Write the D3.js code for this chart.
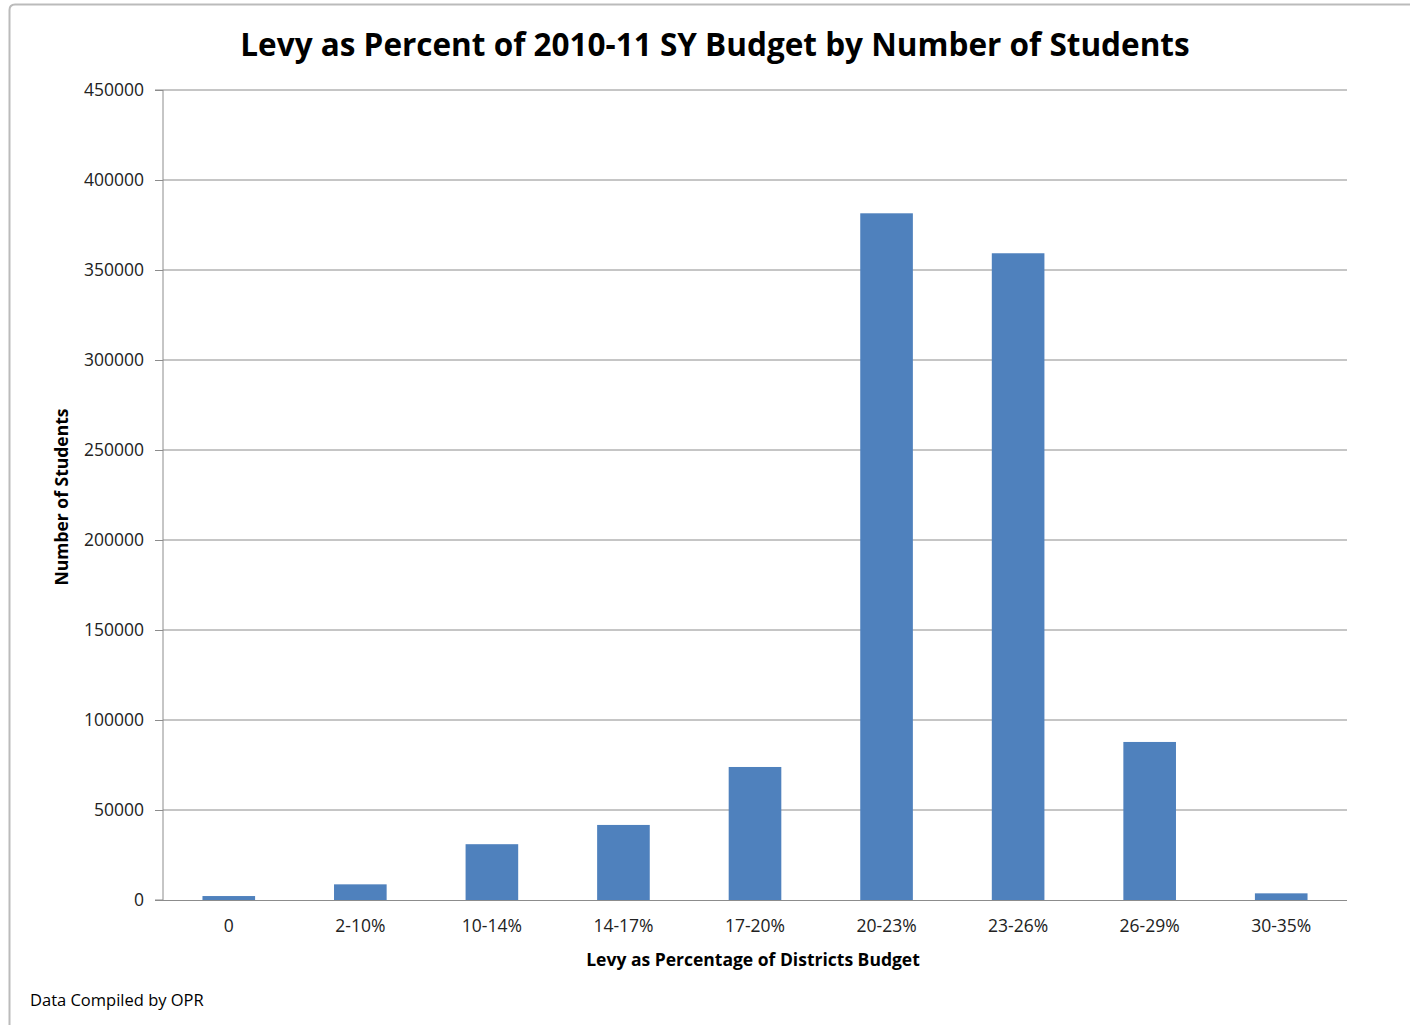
<!DOCTYPE html>
<html lang="en">
<head>
    <meta charset="UTF-8">
    <title>Levy as Percent of 2010-11 SY Budget</title>
    <script src="https://d3js.org/d3.v7.min.js"></script>
    <style>
        body { margin: 0; background: #fff; font-family: "Open Sans", Arial, sans-serif; }
    </style>
</head>
<body>
    <svg width="1410" height="1025"></svg>
    <script>
        const categories = ["0", "2-10%", "10-14%", "14-17%", "17-20%", "20-23%", "23-26%", "26-29%", "30-35%"];
        const students = [2200, 8700, 31000, 41700, 73900, 381500, 359300, 87800, 3700];
        const yTicks = [0, 50000, 100000, 150000, 200000, 250000, 300000, 350000, 400000, 450000];

        const margin = { top: 90, right: 63, bottom: 125, left: 163 },
              width = 1410 - margin.left - margin.right,
              height = 1025 - margin.top - margin.bottom;

        const svg = d3.select("svg");

        // chart frame
        svg.append("path")
            .attr("d", "M9.5,1025 L9.5,10 Q9.5,4.5 15,4.5 L1410,4.5")
            .attr("fill", "none")
            .attr("stroke", "#bbb")
            .attr("stroke-width", 2);

        const g = svg.append("g")
            .attr("transform", "translate(" + margin.left + "," + margin.top + ")");

        const x = d3.scaleBand()
            .domain(categories)
            .range([0, width])
            .paddingInner(0.6)
            .paddingOuter(0.3);
        const y = d3.scaleLinear()
            .domain([0, 450000])
            .range([height, 0]);

        // gridlines
        g.selectAll(".grid")
            .data(yTicks.slice(1))
            .enter()
            .append("line")
            .attr("x1", 0)
            .attr("x2", width)
            .attr("y1", d => y(d))
            .attr("y2", d => y(d))
            .attr("stroke", "#8c8c8c")
            .attr("stroke-width", 1);

        g.selectAll(".bar")
            .data(students)
            .enter()
            .append("rect")
            .attr("class", "bar")
            .attr("x", (d, i) => x(categories[i]))
            .attr("y", d => y(d))
            .attr("width", x.bandwidth())
            .attr("height", d => height - y(d))
            .attr("fill", "#4f81bd");

        const yAxis = g.append("g")
            .call(d3.axisLeft(y).tickValues(yTicks).tickSize(8).tickPadding(11).tickFormat(d3.format("d")));
        yAxis.selectAll("line, path").attr("stroke", "#8c8c8c");
        yAxis.select(".domain").attr("d", "M-8," + height + "H0V0H-8");

        const xAxis = g.append("g")
            .attr("transform", "translate(0," + height + ")")
            .call(d3.axisBottom(x).tickSize(0).tickPadding(20));
        xAxis.select(".domain").attr("stroke", "#8c8c8c").attr("d", "M-8,0.5H" + width);

        svg.selectAll(".tick text")
            .style("font-family", "'Open Sans', Arial, sans-serif")
            .style("font-size", "17.5px")
            .attr("fill", "#222");

        svg.append("text")
            .attr("x", 715)
            .attr("y", 56)
            .attr("text-anchor", "middle")
            .style("font-size", "31.5px")
            .style("font-weight", "bold")
            .attr("fill", "#000")
            .text("Levy as Percent of 2010-11 SY Budget by Number of Students");

        svg.append("text")
            .attr("transform", "translate(68,497) rotate(-90)")
            .attr("text-anchor", "middle")
            .style("font-size", "17.5px")
            .style("font-weight", "bold")
            .text("Number of Students");

        svg.append("text")
            .attr("x", 753)
            .attr("y", 966)
            .attr("text-anchor", "middle")
            .style("font-size", "17.5px")
            .style("font-weight", "bold")
            .text("Levy as Percentage of Districts Budget");

        svg.append("text")
            .attr("x", 30)
            .attr("y", 1006)
            .style("font-size", "16.5px")
            .text("Data Compiled by OPR");
    </script>
</body>
</html>
